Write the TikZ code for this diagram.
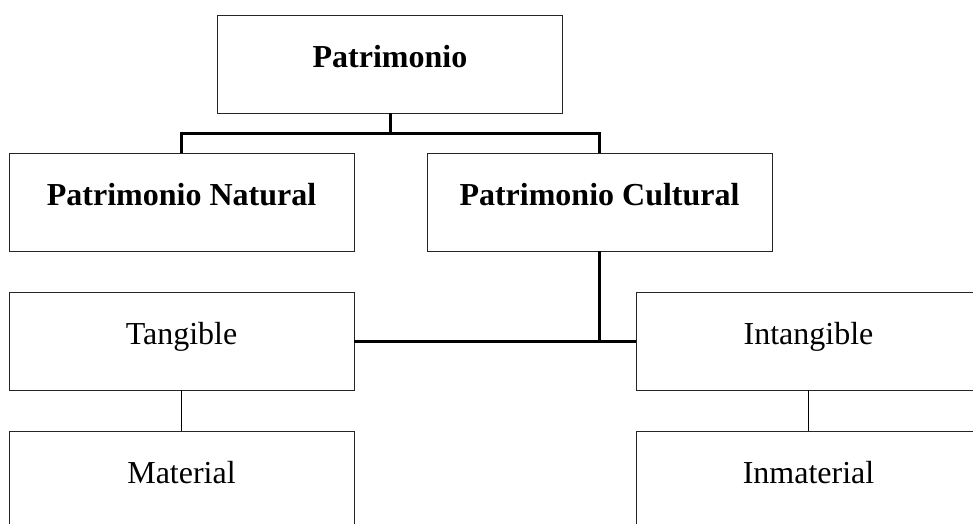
\documentclass[tikz,border=0pt]{standalone}
\usepackage{fontspec}
\setmainfont{Liberation Serif}
\begin{document}
\begin{tikzpicture}[x=1pt,y=-1pt,
  box/.style={draw=black!85, line width=0.9pt, rectangle, minimum width=345pt, minimum height=98pt,
    inner sep=0pt, text height=22pt, text depth=15.5pt, font=\fontsize{32}{38}\selectfont},
  boldbox/.style={box, font=\fontsize{32}{38}\selectfont\bfseries},
  thickline/.style={line width=3pt, line join=miter},
  thinline/.style={line width=1pt}]
\useasboundingbox (0,0) rectangle (973,523);
\clip (0,0) rectangle (973,523);
\node[boldbox] (pat) at (390,64) {Patrimonio};
\node[boldbox] (nat) at (181.5,202) {Patrimonio Natural};
\node[boldbox] (cul) at (599.5,202) {Patrimonio Cultural};
\node[box] (tan) at (181.5,341) {Tangible};
\node[box] (int) at (808.5,341) {Intangible};
\node[box] (mat) at (181.5,480) {Material};
\node[box] (inm) at (808.5,480) {Inmaterial};
\coordinate (j1) at (390,133);
\coordinate (j2) at (cul.south |- tan.east);
\draw[thickline] (pat.south) -- (j1);
\draw[thickline] (nat.north) |- (j1) -| (cul.north);
\draw[thickline] (cul.south) -- (j2);
\draw[thickline] (tan.east) -- (int.west);
\draw[thinline] (tan.south) -- (mat.north);
\draw[thinline] (int.south) -- (inm.north);
\end{tikzpicture}
\end{document}
